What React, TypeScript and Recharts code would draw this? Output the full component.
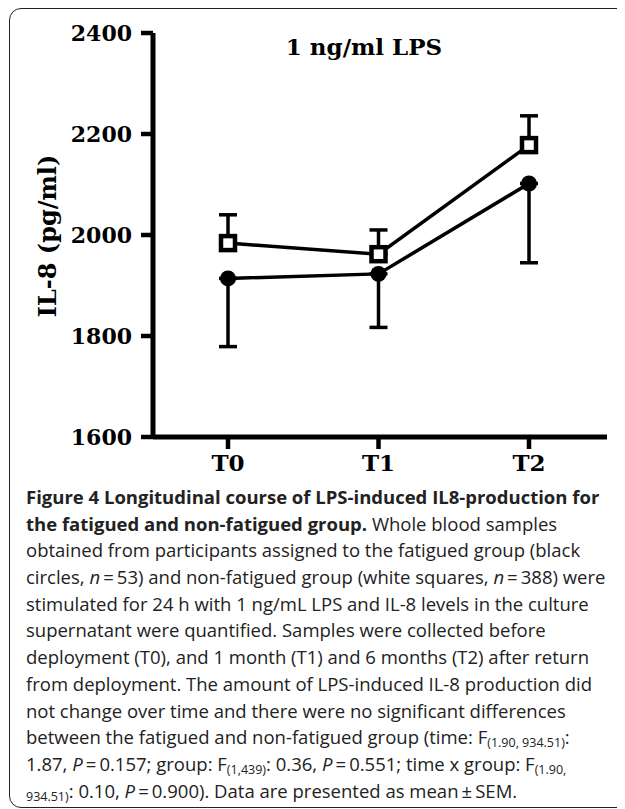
import { LineChart, Line, XAxis, YAxis, ErrorBar } from "recharts";

const categories = ["T0", "T1", "T2"];
// non-fatigued group (white squares), error drawn upward
const nonFatiguedMean = [1984, 1962, 2178];
const nonFatiguedSem = [56, 48, 58];
// fatigued group (black circles), error drawn downward
const fatiguedMean = [1914, 1923, 2102];
const fatiguedSem = [135, 106, 157];
const yTicks = [1600, 1800, 2000, 2200, 2400];

const data = categories.map((t, i) => ({
  t,
  nonFatigued: nonFatiguedMean[i],
  nonFatiguedErr: [0, nonFatiguedSem[i]],
  fatigued: fatiguedMean[i],
  fatiguedErr: [fatiguedSem[i], 0],
}));

const serif = "'DejaVu Serif', serif";
const sans = "'Open Sans', 'Noto Sans', sans-serif";
const EQ = "\u2009=\u2009";

const SquareDot = (props: any) => {
  const { cx, cy, index } = props;
  if (cx == null || cy == null) return null;
  const s = 14;
  return (
    <rect
      key={`sq-${index}`}
      x={cx - s / 2}
      y={cy - s / 2}
      width={s}
      height={s}
      fill="#fff"
      stroke="#000"
      strokeWidth={4.5}
    />
  );
};

const CircleDot = (props: any) => {
  const { cx, cy, index } = props;
  if (cx == null || cy == null) return null;
  return <circle key={`ci-${index}`} cx={cx} cy={cy} r={8} fill="#000" />;
};

// subscript that does not push the line box down
const Sub = ({ children }: { children: React.ReactNode }) => (
  <span style={{ fontSize: 12.5, position: "relative", top: 3, lineHeight: 0 }}>{children}</span>
);

const captionLines: React.ReactNode[] = [
  <b>Figure 4 Longitudinal course of LPS-induced IL8-production for</b>,
  <>
    <b>the fatigued and non-fatigued group.</b> Whole blood samples
  </>,
  <>obtained from participants assigned to the fatigued group (black</>,
  <>
    circles, <i>n</i>{EQ}53) and non-fatigued group (white squares, <i>n</i>{EQ}388) were
  </>,
  <>stimulated for 24 h with 1 ng/mL LPS and IL-8 levels in the culture</>,
  <>supernatant were quantified. Samples were collected before</>,
  <>deployment (T0), and 1 month (T1) and 6 months (T2) after return</>,
  <>from deployment. The amount of LPS-induced IL-8 production did</>,
  <>not change over time and there were no significant differences</>,
  <>
    between the fatigued and non-fatigued group (time: F<Sub>(1.90, 934.51)</Sub>:
  </>,
  <>
    1.87, <i>P</i>{EQ}0.157; group: F<Sub>(1,439)</Sub>: 0.36, <i>P</i>{EQ}0.551; time x group: F
    <Sub>(1.90,</Sub>
  </>,
  <>
    <Sub>934.51)</Sub>: 0.10, <i>P</i>{EQ}0.900). Data are presented as mean{"\u2009±\u2009"}SEM.
  </>,
];

export default function App() {
  return (
    <div style={{ position: "relative", marginLeft: 1, width: 616, height: 801, overflow: "hidden" }}>
      <div
        style={{
          position: "absolute",
          left: 0,
          top: 0,
          width: 680,
          height: 798,
          border: "1px solid #222",
          borderRadius: 12,
          background: "#fff",
        }}
      >
        <div style={{ position: "absolute", left: 0, top: 0 }}>
          <LineChart width={600} height={480} data={data} margin={{ top: 24, right: 3, left: 0, bottom: 0 }}>
            <XAxis
              dataKey="t"
              padding={{ left: 75, right: 78 }}
              axisLine={{ stroke: "#000", strokeWidth: 5 }}
              tickLine={{ stroke: "#000", strokeWidth: 4.5 }}
              tickSize={12}
              tickMargin={5.5}
              height={52}
              tick={{ fill: "#000", fontSize: 23, fontFamily: serif, fontWeight: "bold" }}
            />
            <YAxis
              domain={[1600, 2400]}
              ticks={yTicks}
              width={143}
              axisLine={{ stroke: "#000", strokeWidth: 5 }}
              tickLine={{ stroke: "#000", strokeWidth: 4.5 }}
              tickSize={12}
              tickMargin={9}
              tick={{ fill: "#000", fontSize: 22, fontFamily: serif, fontWeight: "bold" }}
            />
            <Line
              dataKey="fatigued"
              stroke="#000"
              strokeWidth={3.5}
              dot={CircleDot}
              activeDot={false}
              isAnimationActive={false}
            >
              <ErrorBar dataKey="fatiguedErr" width={9} stroke="#000" strokeWidth={3.5} isAnimationActive={false} />
            </Line>
            <Line
              dataKey="nonFatigued"
              stroke="#000"
              strokeWidth={3.5}
              dot={SquareDot}
              activeDot={false}
              isAnimationActive={false}
            >
              <ErrorBar dataKey="nonFatiguedErr" width={9} stroke="#000" strokeWidth={3.5} isAnimationActive={false} />
            </Line>
          </LineChart>
        </div>
        <svg
          width={600}
          height={460}
          style={{ position: "absolute", left: 0, top: 0, pointerEvents: "none" }}
        >
          <text x={354} y={46} textAnchor="middle" fontFamily={serif} fontWeight="bold" fontSize={23} fill="#000">
            1 ng/ml LPS
          </text>
          <text
            x={46}
            y={227}
            transform="rotate(-90 46 227)"
            textAnchor="middle"
            fontFamily={serif}
            fontWeight="bold"
            fontSize={24}
            fill="#000"
          >
            IL-8 (pg/ml)
          </text>
        </svg>
        <div
          style={{
            position: "absolute",
            left: 16,
            top: 475,
            fontFamily: sans,
            fontSize: 18.5,
            lineHeight: "26.7px",
            color: "#222",
          }}
        >
          {captionLines.map((line, i) => (
            <div key={i} style={{ whiteSpace: "nowrap", height: 26.7 }}>
              {line}
            </div>
          ))}
        </div>
      </div>
    </div>
  );
}
